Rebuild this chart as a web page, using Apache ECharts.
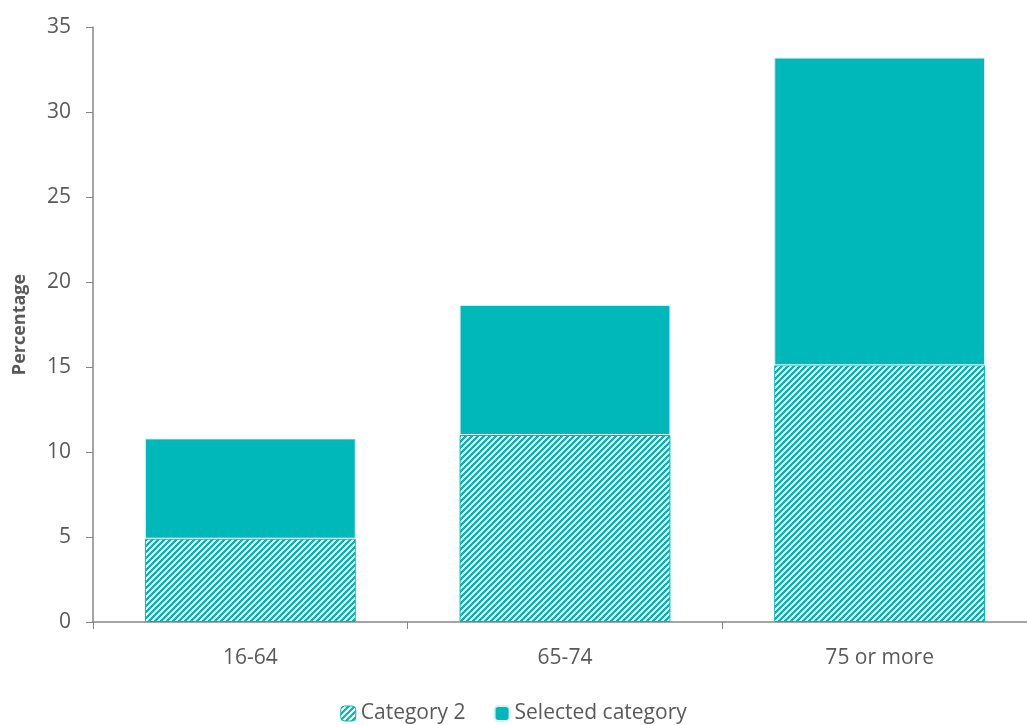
<!DOCTYPE html>
<html><head><meta charset="utf-8">
<script src="https://cdn.jsdelivr.net/npm/echarts@6/dist/echarts.min.js"></script>
<style>html,body{margin:0;padding:0;background:#fff}#c{width:1027px;height:725px}</style>
</head><body><div id="c"></div>
<script>
const categories = ['16-64', '65-74', '75 or more'];
const category2 = [4.9, 11.0, 15.1];
const selectedCategory = [5.9, 7.65, 18.1];
const seriesNames = ['Category 2', 'Selected category'];

const TEAL = '#00B8BA';
function makePattern() {
  const n = 6;
  const cv = document.createElement('canvas');
  cv.width = n; cv.height = n;
  const ctx = cv.getContext('2d');
  for (let x = 0; x < n; x++) for (let y = 0; y < n; y++) {
    ctx.fillStyle = ((x + y) % n) < 3 ? TEAL : '#ffffff';
    ctx.fillRect(x, y, 1, 1);
  }
  return cv;
}
const pattern = { image: makePattern(), repeat: 'repeat' };

const chart = echarts.init(document.getElementById('c'), null, { renderer: 'canvas' });
const font = '"Open Sans", sans-serif';
chart.setOption({
  animation: false,
  textStyle: { fontFamily: font },
  grid: { left: 93, top: 27, width: 944, height: 595, containLabel: false, outerBoundsMode: 'none' },
  legend: {
    bottom: -4, left: 'center', itemWidth: 15, itemHeight: 15, itemGap: 28,
    textStyle: { fontSize: 21, color: '#595959', fontFamily: font },
    data: [
      { name: seriesNames[0], itemStyle: { color: pattern, borderColor: TEAL, borderWidth: 1 } },
      { name: seriesNames[1], itemStyle: { color: TEAL } }
    ]
  },
  xAxis: {
    type: 'category', data: categories,
    axisLine: { lineStyle: { color: '#868686', width: 1.5 } },
    axisTick: { show: true, length: 7, lineStyle: { color: '#868686' } },
    axisLabel: { color: '#595959', fontSize: 21, margin: 26 }
  },
  yAxis: {
    type: 'value', min: 0, max: 35, interval: 5,
    name: 'Percentage', nameLocation: 'middle', nameGap: 64, nameRotate: 90,
    nameTextStyle: { fontSize: 18, fontWeight: 'bold', color: '#595959', fontFamily: font },
    splitLine: { show: false },
    axisLine: { show: true, lineStyle: { color: '#868686', width: 1.5 } },
    axisTick: { show: true, length: 7, lineStyle: { color: '#868686' } },
    axisLabel: { color: '#595959', fontSize: 21, margin: 22 }
  },
  series: [
    { name: seriesNames[0], type: 'bar', stack: 'a', data: category2, barWidth: '67%',
      itemStyle: { color: pattern, borderColor: TEAL, borderWidth: 1 } },
    { name: seriesNames[1], type: 'bar', stack: 'a', data: selectedCategory, barWidth: '67%',
      itemStyle: { color: TEAL, borderColor: '#d8f0f0', borderWidth: 1 } }
  ]
});
</script></body></html>
